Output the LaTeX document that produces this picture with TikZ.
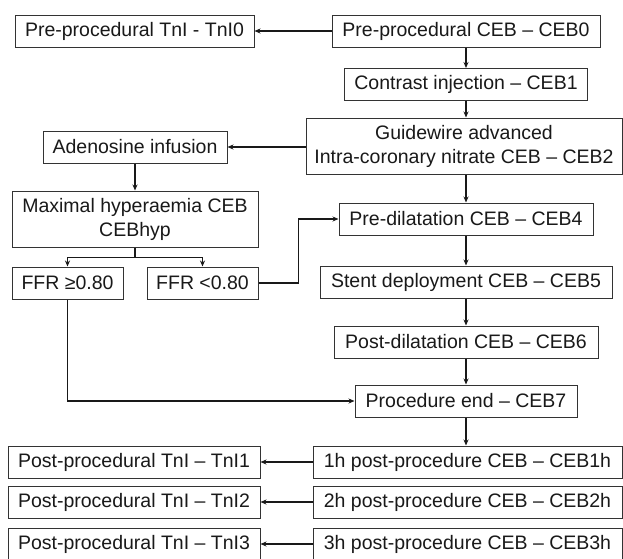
\documentclass[tikz,border=0pt]{standalone}
\usepackage{fontspec}
\setmainfont{Liberation Sans}
\usetikzlibrary{arrows.meta,calc}
\begin{document}
\begin{tikzpicture}[x=1pt,y=-1pt,
  box/.style={draw=black!80, line width=1pt, inner sep=0pt, align=center,
    font=\fontsize{19.5}{24}\selectfont, text=black!90, minimum height=32pt},
  conn/.style={line width=1.8pt, black!90, -{Stealth[length=6pt,width=5pt]}},
  plain/.style={line width=1.8pt, black!90}]
\useasboundingbox (0,0) rectangle (623,558);
\fill[white] (0,0) rectangle (623,558);
% right column
\node[box, minimum width=268pt] (ceb0) at (466,31) {Pre-procedural CEB – CEB0};
\node[box, minimum width=243pt] (ceb1) at (466,84.5) {Contrast injection – CEB1};
\node[box, minimum width=316pt, minimum height=56pt] (ceb2) at (464,146) {Guidewire advanced\\Intra-coronary nitrate CEB – CEB2};
\node[box, minimum width=254pt] (ceb4) at (466,219) {Pre-dilatation CEB – CEB4};
\node[box, minimum width=292pt] (ceb5) at (466,282) {Stent deployment CEB – CEB5};
\node[box, minimum width=264pt] (ceb6) at (466,342) {Post-dilatation CEB – CEB6};
\node[box, minimum width=222pt] (ceb7) at (466,401) {Procedure end – CEB7};
\node[box, minimum width=309pt] (h1) at (467.5,462) {1h post-procedure CEB – CEB1h};
\node[box, minimum width=309pt] (h2) at (467.5,502) {2h post-procedure CEB – CEB2h};
\node[box, minimum width=309pt] (h3) at (467.5,544) {3h post-procedure CEB – CEB3h};
% left column
\node[box, minimum width=239pt] (tni0) at (134.5,31) {Pre-procedural TnI - TnI0};
\node[box, minimum width=184pt] (aden) at (135,147) {Adenosine infusion};
\node[box, minimum width=246pt, minimum height=56pt] (hyp) at (135,219) {Maximal hyperaemia CEB\\CEBhyp};
\node[box, minimum width=111pt] (ffrge) at (67.5,283) {FFR ≥0.80};
\node[box, minimum width=111pt] (ffrlt) at (202.5,283) {FFR <0.80};
\node[box, minimum width=252pt] (tni1) at (134,462) {Post-procedural TnI – TnI1};
\node[box, minimum width=252pt] (tni2) at (134,502) {Post-procedural TnI – TnI2};
\node[box, minimum width=252pt] (tni3) at (134,544) {Post-procedural TnI – TnI3};
% connectors
\draw[conn] (ceb0.west) -- (tni0.east);
\draw[conn] (ceb0) -- (ceb1);
\draw[conn] (ceb1.south) -- (ceb1.south |- ceb2.north);
\draw[conn] (ceb2.west |- aden) -- (aden.east);
\draw[conn] (ceb1.south |- ceb2.south) -- (ceb4.north);
\draw[conn] (ceb4) -- (ceb5);
\draw[conn] (ceb5) -- (ceb6);
\draw[conn] (ceb6) -- (ceb7);
\draw[conn] (ceb7.south) -- (ceb7.south |- h1.north);
\draw[conn] (aden) -- (hyp);
\coordinate (split) at ($(hyp.south)+(0,10)$);
\draw[plain] (hyp.south) -- (split);
\draw[conn] (split) -| (ffrge.north);
\draw[conn] (split) -| (ffrlt.north);
\draw[conn] (ffrlt.east) -- ++(40,0) |- (ceb4.west);
\draw[conn] (ffrge.south) |- (ceb7.west);
\draw[conn] (h1.west) -- (tni1.east);
\draw[conn] (h2.west) -- (tni2.east);
\draw[conn] (h3.west) -- (tni3.east);
\end{tikzpicture}
\end{document}
